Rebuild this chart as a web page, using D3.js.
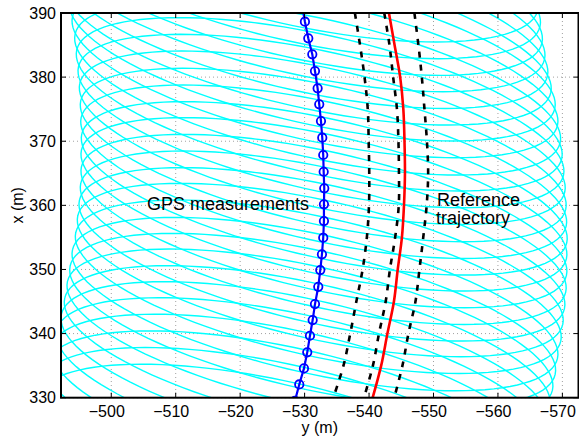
<!DOCTYPE html>
<html>
<head>
<meta charset="utf-8">
<script src="https://cdn.jsdelivr.net/npm/d3@7"></script>
<style>
  body { margin: 0; background: #fff; }
  svg { display: block; }
</style>
</head>
<body>
<div id="chart"></div>
<script>
// GPS measurements (east "y", north "x"), a few points run past the axes limits
const gpsNorth = [399.0, 396.4, 393.8, 391.25, 388.64, 386.05, 383.56, 380.95, 378.25, 375.76,
  373.15, 370.55, 367.85, 365.24, 362.65, 360.16, 357.55, 354.95, 352.36, 349.91,
  347.30, 344.60, 342.11, 339.66, 337.07, 334.57, 332.07, 329.50, 326.9, 324.3, 321.7];
const gpsEast = [-528.6, -528.9, -529.2, -529.6, -530.05, -530.57, -531.19, -531.61, -532.02, -532.27,
  -532.54, -532.74, -532.89, -532.96, -533.05, -533.0, -533.0, -532.89, -532.69, -532.43,
  -532.12, -531.61, -531.25, -530.83, -530.41, -529.9, -529.17, -528.5, -527.8, -527.1, -526.4];

// reference trajectory and the three dashed curves, read at these north values
const trajNorth = [390, 385, 380, 375, 370, 365, 360, 355, 350, 345, 340, 335, 330];
const refEast   = [-543.09, -543.96, -544.83, -545.32, -545.5, -545.57, -545.42, -545.1, -544.45, -543.86, -542.85, -541.88, -540.56];
const leftEast  = [-537.8, -538.6, -539.3, -539.8, -539.94, -540.03, -539.99, -539.66, -539.0, -538.03, -537.08, -536.03, -534.45];
const midEast   = [-542.36, -543.17, -543.74, -544.33, -544.56, -544.64, -544.61, -544.05, -543.24, -542.58, -541.54, -540.6, -539.21];
const rightEast = [-547.04, -547.66, -548.19, -548.6, -548.98, -549.17, -548.94, -548.41, -547.82, -547.2, -546.11, -545.18, -543.91];

// uncertainty ellipse around every GPS point (m, degrees)
const ellA = 38.57, ellB = 10.8, ellTilt = 12.7;

const xTicks = [-500, -510, -520, -530, -540, -550, -560, -570];
const yTicks = [330, 340, 350, 360, 370, 380, 390];

const width = 579, height = 440;
const pL = 61, pR = 578.5, pT = 13, pB = 397.7;
const font = "'Liberation Sans', Arial, Helvetica, sans-serif";

const svg = d3.select("#chart").append("svg")
  .attr("width", width).attr("height", height)
  .attr("viewBox", `0 0 ${width} ${height}`);

svg.append("rect").attr("width", width).attr("height", height).attr("fill", "#fff");

const x = d3.scaleLinear().domain([-492.2, -572.5]).range([pL, pR]);
const y = d3.scaleLinear().domain([330, 390]).range([pB, pT]);

svg.append("defs").append("clipPath").attr("id", "plot")
  .append("rect").attr("x", pL).attr("y", pT)
  .attr("width", pR - pL).attr("height", pB - pT);

// grid
const grid = svg.append("g").attr("stroke", "#a0a0a0").attr("stroke-width", 1)
  .attr("stroke-dasharray", "1,3");
xTicks.forEach(t => {
  grid.append("line").attr("x1", x(t)).attr("x2", x(t)).attr("y1", pT).attr("y2", pB);
});
yTicks.forEach(t => {
  grid.append("line").attr("x1", pL).attr("x2", pR).attr("y1", y(t)).attr("y2", y(t));
});

const plot = svg.append("g").attr("clip-path", "url(#plot)");

// ellipses
const phi = ellTilt * Math.PI / 180;
const angles = d3.range(0, 361, 3).map(a => a * Math.PI / 180);
const ellLine = d3.line().x(d => x(d[0])).y(d => y(d[1]));
gpsEast.forEach((cE, i) => {
  const cN = gpsNorth[i];
  const pts = angles.map(t => [
    cE + ellA * Math.cos(t) * Math.cos(phi) - ellB * Math.sin(t) * Math.sin(phi),
    cN + ellA * Math.cos(t) * Math.sin(phi) + ellB * Math.sin(t) * Math.cos(phi)
  ]);
  plot.append("path").attr("d", ellLine(pts))
    .attr("fill", "none").attr("stroke", "#00ffff").attr("stroke-width", 1.4);
});

const trajLine = d3.line()
  .x(d => x(d[0])).y(d => y(d[1]))
  .curve(d3.curveCatmullRom);

[leftEast, midEast, rightEast].forEach(arr => {
  plot.append("path")
    .attr("d", trajLine(arr.map((e, i) => [e, trajNorth[i]])))
    .attr("fill", "none").attr("stroke", "#000").attr("stroke-width", 2.6)
    .attr("stroke-dasharray", "6,7");
});

plot.append("path")
  .attr("d", trajLine(refEast.map((e, i) => [e, trajNorth[i]])))
  .attr("fill", "none").attr("stroke", "#ff0000").attr("stroke-width", 2.6);

// GPS track
const gpsPts = gpsEast.map((e, i) => [e, gpsNorth[i]]);
plot.append("path")
  .attr("d", d3.line().x(d => x(d[0])).y(d => y(d[1]))(gpsPts))
  .attr("fill", "none").attr("stroke", "#0000ff").attr("stroke-width", 2.2);
plot.selectAll("circle.gps").data(gpsPts).enter().append("circle")
  .attr("class", "gps")
  .attr("cx", d => x(d[0])).attr("cy", d => y(d[1])).attr("r", 4.2)
  .attr("fill", "none").attr("stroke", "#0000ff").attr("stroke-width", 1.8);

// annotations
svg.append("text").attr("x", 147).attr("y", 210)
  .style("font-family", font).style("font-size", "18px").attr("fill", "#000")
  .text("GPS measurements");
svg.append("text").attr("x", 437).attr("y", 206)
  .style("font-family", font).style("font-size", "18px").attr("fill", "#000")
  .text("Reference");
svg.append("text").attr("x", 436).attr("y", 224)
  .style("font-family", font).style("font-size", "18px").attr("fill", "#000")
  .text("trajectory");

// axes box and ticks
const ax = svg.append("g").attr("stroke", "#000").attr("stroke-width", 1);
xTicks.forEach(t => {
  ax.append("line").attr("x1", x(t)).attr("x2", x(t)).attr("y1", pB).attr("y2", pB - 5);
  ax.append("line").attr("x1", x(t)).attr("x2", x(t)).attr("y1", pT).attr("y2", pT + 5);
});
yTicks.forEach(t => {
  ax.append("line").attr("x1", pL).attr("x2", pL + 5).attr("y1", y(t)).attr("y2", y(t));
  ax.append("line").attr("x1", pR).attr("x2", pR - 5).attr("y1", y(t)).attr("y2", y(t));
});
svg.append("rect").attr("x", pL).attr("y", pT)
  .attr("width", pR - pL).attr("height", pB - pT)
  .attr("fill", "none").attr("stroke", "#000").attr("stroke-width", 2);

const fmt = d3.format("d");
svg.append("g").selectAll("text").data(xTicks).enter().append("text")
  .attr("x", d => x(d) - 4.5).attr("y", 417)
  .attr("text-anchor", "middle")
  .style("font-family", font).style("font-size", "16px").attr("fill", "#000")
  .text(d => fmt(d));
svg.append("g").selectAll("text").data(yTicks).enter().append("text")
  .attr("x", 56).attr("y", d => y(d))
  .attr("text-anchor", "end").attr("dominant-baseline", "central")
  .style("font-family", font).style("font-size", "16px").attr("fill", "#000")
  .text(d => fmt(d));

svg.append("text").attr("x", (pL + pR) / 2).attr("y", 433)
  .attr("text-anchor", "middle")
  .style("font-family", font).style("font-size", "16px").attr("fill", "#000")
  .text("y (m)");
svg.append("text")
  .attr("transform", `translate(23,${(pT + pB) / 2}) rotate(-90)`)
  .attr("text-anchor", "middle")
  .style("font-family", font).style("font-size", "16px").attr("fill", "#000")
  .text("x (m)");
</script>
</body>
</html>
